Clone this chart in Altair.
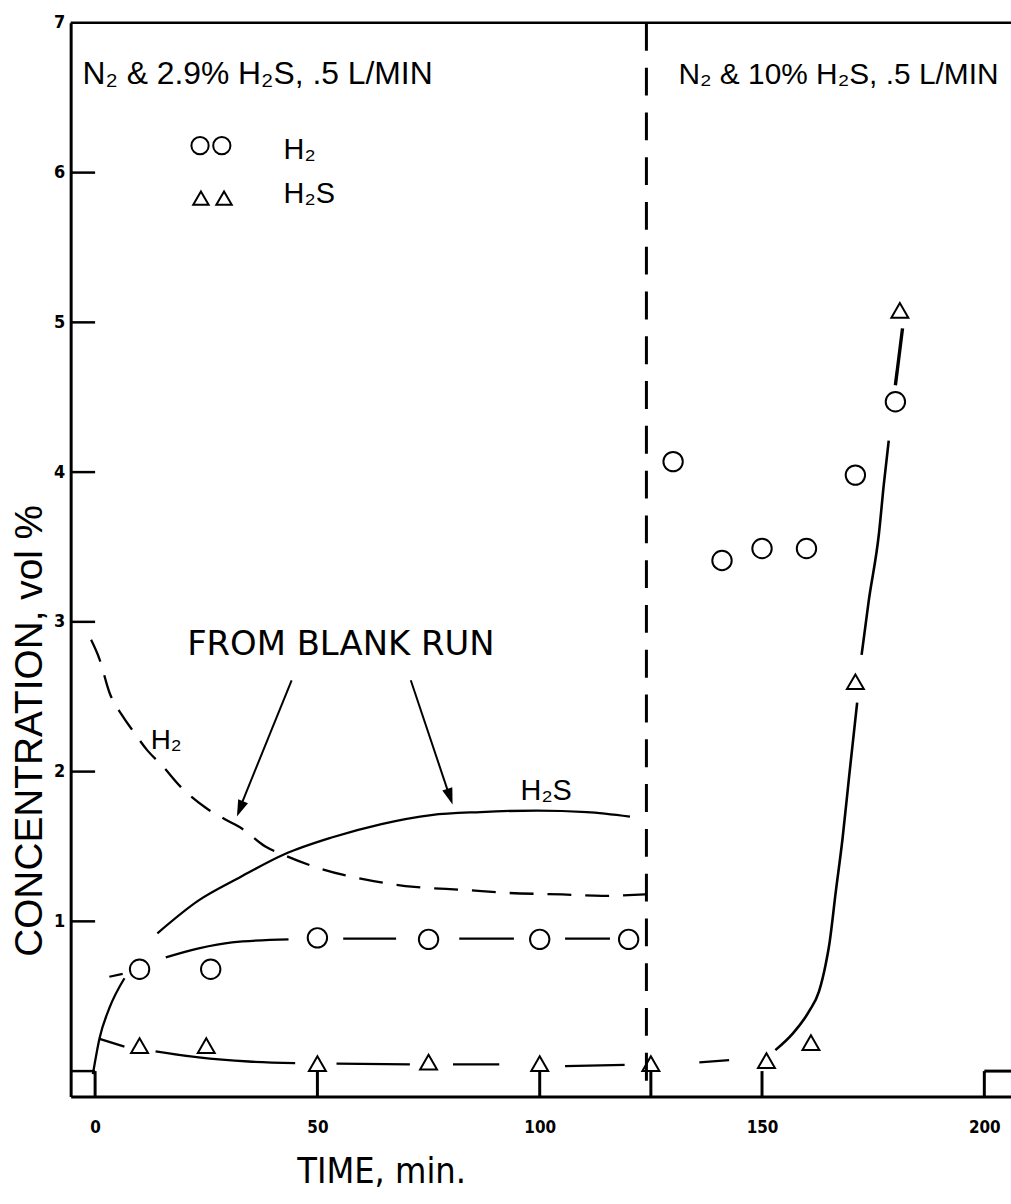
import altair as alt
import pandas as pd

# ---------------- data ----------------
# measured points (circles = H2, triangles = H2S)
h2_t = [10, 26, 50, 75, 100, 120, 130, 141, 150, 160, 171, 180]
h2_c = [0.68, 0.68, 0.89, 0.88, 0.88, 0.88, 4.07, 3.41, 3.49, 3.49, 3.98, 4.47]
h2s_t = [10, 25, 50, 75, 100, 125, 151, 161, 171, 181]
h2s_c = [0.17, 0.17, 0.05, 0.06, 0.05, 0.05, 0.07, 0.19, 2.60, 5.08]

# blank run H2 (dashed curve)
blank_h2_t = [-0.9, 1.0, 3.2, 6.2, 8.8, 11.8, 15.1, 19.2, 24.8, 29.3, 33.0, 38.3,
              42.7, 50.9, 60.6, 71.8, 83.0, 92.7, 105.0, 114.0, 123.7]
blank_h2_c = [2.88, 2.75, 2.53, 2.37, 2.26, 2.14, 2.04, 1.90, 1.76, 1.68, 1.62, 1.50,
              1.44, 1.35, 1.28, 1.23, 1.21, 1.19, 1.18, 1.17, 1.18]

# blank run H2S (solid curve, broken around the first circle)
blank_h2s_a_t = [-0.5, 1.0, 3.2, 6.6]
blank_h2s_a_c = [-0.02, 0.22, 0.42, 0.62]
blank_h2s_b_t = [14.0, 23.3, 32.3, 42.7, 53.2, 64.4, 75.6, 86.7, 99.4, 110.6, 120.3]
blank_h2s_b_c = [0.92, 1.14, 1.29, 1.45, 1.56, 1.65, 1.71, 1.73, 1.74, 1.73, 1.70]

# curve through the H2 circles (segments)
fit_h2_segs = {
    "a": ([3.2, 6.2], [0.63, 0.65]),
    "b": ([15.9, 23.3, 30.8, 43.5], [0.76, 0.82, 0.86, 0.88]),
    "c": ([55.8, 67.7], [0.885, 0.885]),
    "d": ([81.9, 94.2], [0.885, 0.885]),
    "e": ([105.7, 115.8], [0.885, 0.885]),
}
# curve through the H2S triangles (segments)
fit_h2s_segs = {
    "a": ([1.0, 6.6], [0.215, 0.164]),
    "b": ([13.6, 23.3, 34.5, 45.0], [0.131, 0.091, 0.064, 0.053]),
    "c": ([54.3, 70.8], [0.05, 0.045]),
    "d": ([80.5, 90.9], [0.045, 0.045]),
    "e": ([105.7, 119.1], [0.033, 0.042]),
    "f": ([135.9, 142.6], [0.058, 0.073]),
}
# breakthrough curve (segments)
rise_segs = {
    "r1": ([153.0, 156.9, 160.6, 162.8, 164.3, 165.1, 166.6, 168.1, 169.6, 171.4],
           [0.14, 0.25, 0.40, 0.53, 0.71, 0.84, 1.20, 1.55, 1.97, 2.46]),
    "r2": ([172.4, 174.0, 176.3, 177.4, 178.5], [2.78, 3.14, 3.59, 3.92, 4.21]),
}
rise_end_t = [180.0, 181.6]
rise_end_c = [4.58, 4.96]

switch_t = 124.0
x_tick_vals = [0, 50, 100, 125, 150, 200]
x_label_vals = [0, 50, 100, 150, 200]
y_tick_vals = [0, 1, 2, 3, 4, 5, 6]
y_label_vals = [1, 2, 3, 4, 5, 6, 7]

XMIN, XMAX = -5.5, 206.0
YMIN, YMAX = -0.17, 7.0

# ---------------- helpers ----------------
def seg_df(segs):
    rows = []
    for k, (ts, cs) in segs.items():
        for t, c in zip(ts, cs):
            rows.append({"t": t, "c": c, "seg": k})
    return pd.DataFrame(rows)

LABEL_FONT = "Liberation Sans Narrow, DejaVu Sans Condensed, Arial Narrow, sans-serif"
MAIN_FONT = "Liberation Sans, Arial, Helvetica, sans-serif"
WIDE_FONT = "DejaVu Sans, Verdana, sans-serif"

xscale = alt.Scale(domain=[XMIN, XMAX], nice=False, zero=False)
yscale = alt.Scale(domain=[YMIN, YMAX], nice=False, zero=False)

xaxis = alt.Axis(
    values=x_label_vals, ticks=False, tickSize=0, grid=False,
    domain=True, domainColor="black", domainWidth=3,
    labelFont=LABEL_FONT, labelFontWeight="bold", labelFontSize=17,
    labelColor="black", labelPadding=23, labelFlush=False,
    title="TIME, min.", titleFont=LABEL_FONT, titleFontSize=36,
    titleFontWeight="normal", titleColor="black",
    titleX=312, titleY=86, titleAlign="center", titleBaseline="alphabetic",
)
yaxis = alt.Axis(
    values=y_label_vals, ticks=False, tickSize=0, grid=False,
    domain=True, domainColor="black", domainWidth=3,
    labelFont=LABEL_FONT, labelFontWeight="bold", labelFontSize=18,
    labelColor="black", labelPadding=6, labelFlush=False,
    title="CONCENTRATION, vol %", titleFont=MAIN_FONT, titleFontSize=39,
    titleFontWeight="normal", titleColor="black", titleAngle=270,
    titleX=-29, titleY=711, titleAlign="center", titleBaseline="alphabetic",
)
X = alt.X("t:Q", scale=xscale, axis=xaxis)
Y = alt.Y("c:Q", scale=yscale, axis=yaxis)

LW = 2.3

# ---------------- layers ----------------
# frame top line
top_df = pd.DataFrame({"t": [XMIN], "t2": [XMAX], "c": [YMAX]})
top = alt.Chart(top_df).mark_rule(color="black", strokeWidth=2.5).encode(
    x=X, x2="t2:Q", y=Y)

# ticks pointing inward up to the offset origin
xt_df = pd.DataFrame({"t": x_tick_vals, "c": [YMIN] * len(x_tick_vals), "c2": [0.0] * len(x_tick_vals)})
xticks = alt.Chart(xt_df).mark_rule(color="black", strokeWidth=3).encode(
    x=X, y=Y, y2="c2:Q")
yt_df = pd.DataFrame({"t": [XMIN] * len(y_tick_vals), "t2": [0.0] * len(y_tick_vals), "c": y_tick_vals})
yticks = alt.Chart(yt_df).mark_rule(color="black", strokeWidth=2.5).encode(
    x=X, x2="t2:Q", y=Y)
hook_df = pd.DataFrame({"t": [200.0], "t2": [XMAX], "c": [0.0]})
hook = alt.Chart(hook_df).mark_rule(color="black", strokeWidth=3).encode(
    x=X, x2="t2:Q", y=Y)

# switch-over dashed vertical (dashes start at the top frame)
sw_df = pd.DataFrame({"t": [switch_t], "c": [YMAX], "c2": [YMIN]})
switch = alt.Chart(sw_df).mark_rule(color="black", strokeWidth=3, strokeDash=[28, 17]).encode(
    x=X, y=Y, y2="c2:Q")

# blank run curves
bh2 = alt.Chart(pd.DataFrame({"t": blank_h2_t, "c": blank_h2_c})).mark_line(
    color="black", strokeWidth=LW, strokeDash=[24, 14], interpolate="monotone").encode(
    x=X, y=Y, order="t:Q")
bh2s_df = seg_df({"a": (blank_h2s_a_t, blank_h2s_a_c), "b": (blank_h2s_b_t, blank_h2s_b_c)})
bh2s = alt.Chart(bh2s_df).mark_line(color="black", strokeWidth=LW, interpolate="monotone").encode(
    x=X, y=Y, detail="seg:N", order="t:Q")

# fitted curves through the data
fh2 = alt.Chart(seg_df(fit_h2_segs)).mark_line(color="black", strokeWidth=LW, interpolate="monotone").encode(
    x=X, y=Y, detail="seg:N", order="t:Q")
fh2s = alt.Chart(seg_df(fit_h2s_segs)).mark_line(color="black", strokeWidth=LW, interpolate="monotone").encode(
    x=X, y=Y, detail="seg:N", order="t:Q")
rise = alt.Chart(seg_df(rise_segs)).mark_line(color="black", strokeWidth=2.6, interpolate="monotone").encode(
    x=X, y=Y, detail="seg:N", order="t:Q")
rise_end = alt.Chart(pd.DataFrame({"t": rise_end_t, "c": rise_end_c})).mark_line(
    color="black", strokeWidth=3.4).encode(x=X, y=Y)

# measured points
circ = alt.Chart(pd.DataFrame({"t": h2_t, "c": h2_c})).mark_point(
    shape="circle", filled=False, size=380, strokeWidth=2, color="black", opacity=1).encode(x=X, y=Y)
tri = alt.Chart(pd.DataFrame({"t": h2s_t, "c": h2s_c})).mark_point(
    shape="triangle-up", filled=False, size=290, strokeWidth=2, color="black", opacity=1).encode(x=X, y=Y)

# legend inside plot
leg_c = alt.Chart(pd.DataFrame({"t": [23.6, 28.5], "c": [6.18, 6.18]})).mark_point(
    shape="circle", filled=False, size=300, strokeWidth=2, color="black", opacity=1).encode(x=X, y=Y)
leg_t = alt.Chart(pd.DataFrame({"t": [23.8, 29.0], "c": [5.83, 5.83]})).mark_point(
    shape="triangle-up", filled=False, size=240, strokeWidth=2, color="black", opacity=1).encode(x=X, y=Y)

# arrows "FROM BLANK RUN"
arr_df = pd.DataFrame({"t": [44.2, 71.0], "c": [2.61, 2.61], "t2": [32.6, 79.8], "c2": [1.76, 1.83],
                       "tt": [31.9, 80.4], "ct": [1.70, 1.78], "ang": [21.9, 341.4]})
shafts = alt.Chart(arr_df).mark_rule(color="black", strokeWidth=2).encode(
    x=X, y=Y, x2="t2:Q", y2="c2:Q")
heads = alt.Chart(arr_df).mark_point(
    shape="M0,0L-0.32,-1L0.32,-1Z", filled=True, size=1100, color="black", opacity=1).encode(
    x=alt.X("tt:Q", scale=xscale, axis=xaxis), y=alt.Y("ct:Q", scale=yscale, axis=yaxis),
    angle=alt.Angle("ang:Q", scale=None))

def label(t, c, s, size, font=MAIN_FONT, weight="normal"):
    return alt.Chart(pd.DataFrame({"t": [t], "c": [c], "s": [s]})).mark_text(
        align="left", baseline="alphabetic", fontSize=size, font=font,
        fontWeight=weight, color="black").encode(x=X, y=Y, text="s:N")

texts = [
    label(-2.84, 6.59, "N\u2082 &  2.9% H\u2082S, .5 L/MIN", 32),
    label(131.2, 6.59, "N\u2082 & 10% H\u2082S, .5 L/MIN", 30),
    label(42.4, 6.09, "H\u2082", 29),
    label(42.4, 5.80, "H\u2082S", 29),
    label(20.7, 2.78, "FROM  BLANK RUN", 34, font=WIDE_FONT),
    label(12.5, 2.15, "H\u2082", 28),
    label(95.7, 1.81, "H\u2082S", 29),
]

chart = alt.layer(
    top, xticks, yticks, hook, switch, bh2, bh2s, fh2, fh2s, rise, rise_end,
    circ, tri, leg_c, leg_t, shafts, heads, *texts
).properties(
    width=945, height=1079,
    autosize=alt.AutoSizeParams(type="none"),
    padding={"left": 71, "top": 20, "right": 0, "bottom": 105},
    background="white",
).configure_view(stroke=None)

chart.save("out.html", embed_options={"renderer": "svg", "actions": False})
